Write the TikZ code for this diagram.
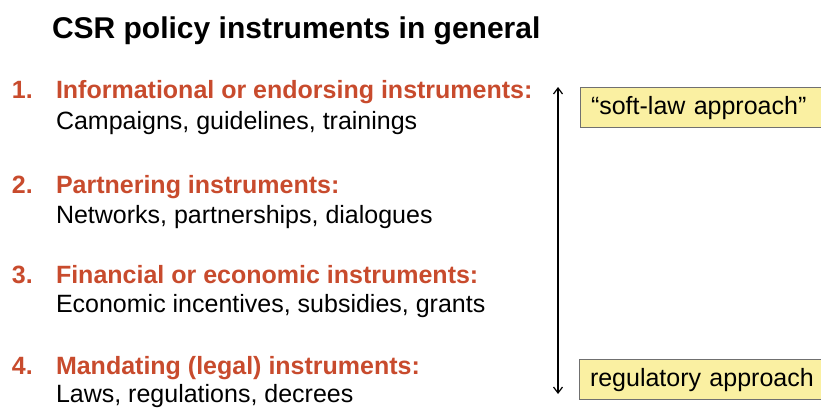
\documentclass[tikz,border=0pt]{standalone}
\usepackage{fontspec}
\setmainfont{Liberation Sans}
\usetikzlibrary{arrows.meta,positioning}

\definecolor{headred}{HTML}{C84B2D}
\definecolor{boxyellow}{HTML}{FAF0A2}
\definecolor{boxgray}{HTML}{707070}

\begin{document}
\begin{tikzpicture}[
    x=1pt, y=-1pt,
    every node/.style={inner sep=0pt, outer sep=0pt, anchor=base west},
    title/.style={font=\fontsize{30}{36}\selectfont\bfseries},
    num/.style={font=\fontsize{25}{30}\selectfont\bfseries, text=headred},
    head/.style={font=\fontsize{25}{30}\selectfont\bfseries, text=headred},
    body/.style={font=\fontsize{25}{30}\selectfont},
    approach/.style={
        draw=boxgray,
        fill=boxyellow,
        anchor=north west,
        font=\fontsize{25}{30}\selectfont,
        minimum height=40pt,
        text width=240pt,
        text depth=4pt,
        inner xsep=11pt,
        align=left
    },
    arrow/.style={{Straight Barb[length=6pt,width=9pt]}-{Straight Barb[length=6pt,width=9pt]}, line width=1.2pt}
]
\useasboundingbox (0,0) rectangle (821,407);

% Title
\node[title] (title) at (52,38) {CSR policy instruments in general};

% Instrument list
\node[num]  (n1) at (12,98)  {1.};
\node[head] (h1) at (56,98)  {Informational or endorsing instruments:};
\node[body] (b1) at (56,129) {Campaigns, guidelines, trainings};

\node[num]  (n2) at (12,193) {2.};
\node[head] (h2) at (56,193) {Partnering instruments:};
\node[body] (b2) at (56,223) {Networks, partnerships, dialogues};

\node[num]  (n3) at (12,283) {3.};
\node[head] (h3) at (56,283) {Financial or economic instruments:};
\node[body] (b3) at (56,312) {Economic incentives, subsidies, grants};

\node[num]  (n4) at (12,374) {4.};
\node[head] (h4) at (56,374) {Mandating (legal) instruments:};
\node[body] (b4) at (56,402) {Laws, regulations, decrees};

% Approaches on the right
\node[approach] (soft) at (580,87)  {``soft-law approach''};
\node[approach] (reg)  at (579,359) {regulatory approach};

% Scale arrow
\coordinate (top) at (558,87);
\coordinate (bot) at (558,394);
\draw[arrow] (bot) -- (top);

\end{tikzpicture}
\end{document}
